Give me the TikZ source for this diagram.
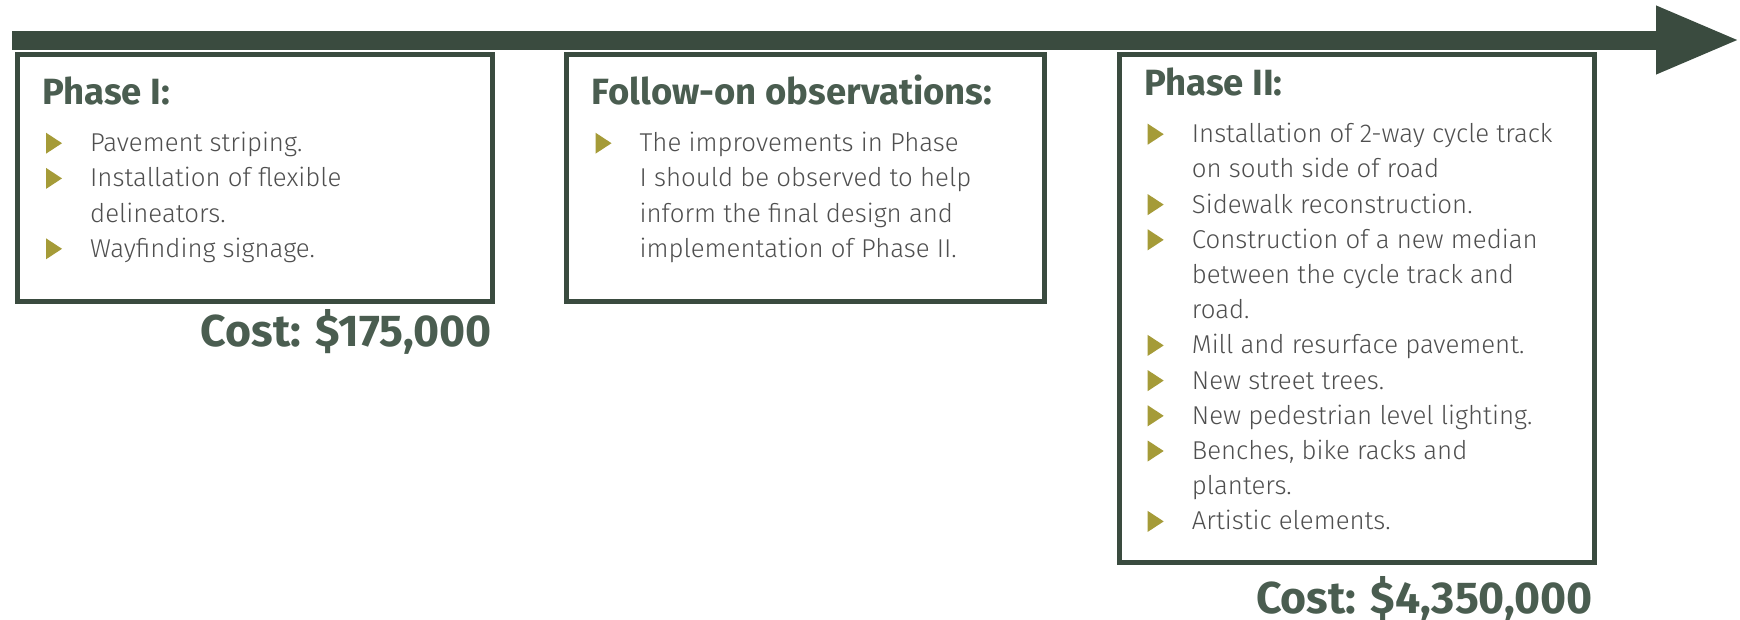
\documentclass[tikz,border=0pt]{standalone}
\usepackage{fontspec}
\setmainfont{Fira Sans}
\newfontfamily\bodyfont{Fira Sans Light}
\usetikzlibrary{arrows.meta}
\definecolor{barc}{HTML}{3A4B3F}
\definecolor{headc}{HTML}{4A5D50}
\definecolor{textc}{HTML}{4F4F4F}
\definecolor{bulc}{HTML}{A59B38}
\tikzset{
  phasebox/.style={draw=barc, line width=5pt, fill=white, inner sep=0pt, anchor=north west},
  heading/.style={font=\bfseries\fontsize{36.5}{40}\selectfont, text=headc, inner sep=0pt, anchor=base west},
  item/.style={font=\bodyfont\fontsize{25.8}{35.2}\selectfont, text=textc, inner sep=0pt, anchor=base west},
  cost/.style={font=\bfseries\fontsize{44.6}{50}\selectfont, text=headc, inner sep=0pt, anchor=base east},
  timeline/.style={draw=barc, line width=19pt, -{Triangle[length=84pt,width=63pt]}},
  bul/.style={fill=bulc}
}
\newcommand{\bulletat}[1]{\fill[bul] (#1.base west) ++(-44,2) -- ++(0,-21) -- ++(16,10.5) -- cycle;}
\begin{document}
\begin{tikzpicture}[x=1pt,y=-1pt]
\useasboundingbox (0,0) rectangle (1740,619);
% boxes
\node[phasebox, minimum width=475pt, minimum height=247pt] (box1) at (14.5,51.5) {};
\node[phasebox, minimum width=477.5pt, minimum height=247pt] (box2) at (564,51.5) {};
\node[phasebox, minimum width=475pt, minimum height=508pt] (box3) at (1116.5,51.5) {};
% timeline
\coordinate (tl0) at (12,40);
\coordinate (tl1) at (1740,40);
\draw[timeline] (tl0) -- (tl1);
% Phase I
\node[heading] (h1) at (42,104) {Phase I:};
\node[item] (a1) at (90,151.7) {Pavement striping.};
\node[item] (a2) at (90,186.9) {Installation of flexible};
\node[item] (a2b) at (90,222.1) {delineators.};
\node[item] (a3) at (90,257.3) {Wayfinding signage.};
\bulletat{a1}\bulletat{a2}\bulletat{a3}
\node[cost] (c1) at (492,346.7) {Cost: \$175,000};
% Follow-on
\node[heading] (h2) at (591.5,104) {Follow-on observations:};
\node[item] (b1) at (639.5,151.7) {The improvements in Phase};
\node[item] (b1b) at (639.5,186.9) {I should be observed to help};
\node[item] (b1c) at (639.5,222.1) {inform the final design and};
\node[item] (b1d) at (639.5,257.3) {implementation of Phase II.};
\bulletat{b1}
% Phase II
\node[heading] (h3) at (1144,95.7) {Phase II:};
\node[item] (d1) at (1191.7,142.7) {Installation of 2-way cycle track};
\node[item] (d1b) at (1191.7,177.9) {on south side of road};
\node[item] (d2) at (1191.7,213.1) {Sidewalk reconstruction.};
\node[item] (d3) at (1191.7,248.3) {Construction of a new median};
\node[item] (d3b) at (1191.7,283.5) {between the cycle track and};
\node[item] (d3c) at (1191.7,318.7) {road.};
\node[item] (d4) at (1191.7,353.9) {Mill and resurface pavement.};
\node[item] (d5) at (1191.7,389.1) {New street trees.};
\node[item] (d6) at (1191.7,424.3) {New pedestrian level lighting.};
\node[item] (d7) at (1191.7,459.5) {Benches, bike racks and};
\node[item] (d7b) at (1191.7,494.7) {planters.};
\node[item] (d8) at (1191.7,529.9) {Artistic elements.};
\bulletat{d1}\bulletat{d2}\bulletat{d3}\bulletat{d4}\bulletat{d5}\bulletat{d6}\bulletat{d7}\bulletat{d8}
\node[cost] (c2) at (1593,613) {Cost: \$4,350,000};
\end{tikzpicture}
\end{document}
